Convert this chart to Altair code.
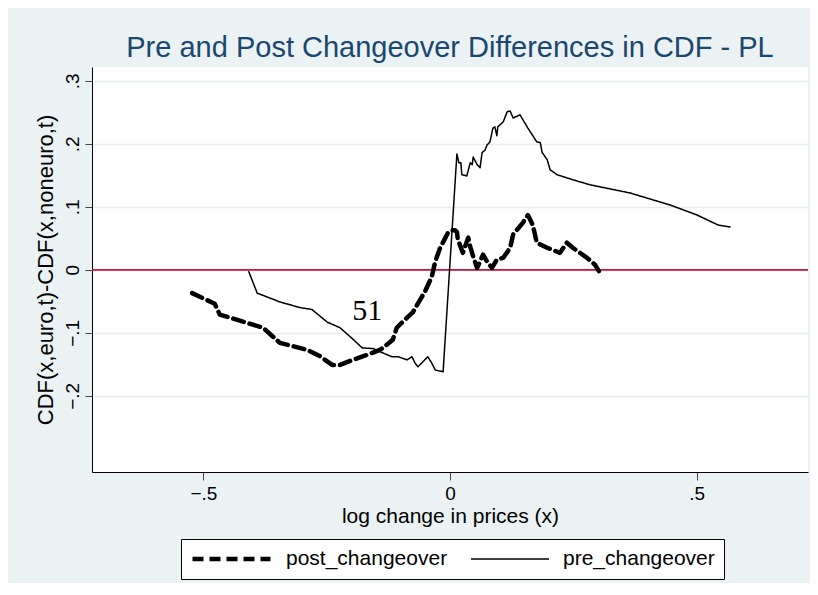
import altair as alt
import pandas as pd

# ---- data ----
series_names = ["post_changeover", "pre_changeover"]

post_x = [-0.523, -0.477, -0.467, -0.379, -0.345, -0.290, -0.264, -0.239, -0.223, -0.197,
          -0.168, -0.142, -0.136, -0.116, -0.108, -0.087, -0.075, -0.061, -0.051, -0.037,
          -0.030, -0.020, -0.014, -0.004, 0.004, 0.010, 0.014, 0.016, 0.026, 0.037,
          0.041, 0.047, 0.055, 0.067, 0.077, 0.085, 0.095, 0.108, 0.122, 0.128,
          0.148, 0.158, 0.168, 0.176, 0.197, 0.223, 0.237, 0.249, 0.278, 0.294, 0.302]
post_y = [-0.037, -0.054, -0.071, -0.092, -0.116, -0.127, -0.137, -0.151, -0.151, -0.143,
          -0.135, -0.127, -0.124, -0.111, -0.092, -0.076, -0.067, -0.048, -0.035, -0.011,
          0.013, 0.035, 0.044, 0.059, 0.063, 0.063, 0.060, 0.048, 0.027, 0.051,
          0.037, 0.021, 0.003, 0.024, 0.011, 0.003, 0.016, 0.019, 0.035, 0.056,
          0.075, 0.087, 0.071, 0.043, 0.035, 0.027, 0.043, 0.035, 0.019, 0.008, -0.002]

pre_x = [-0.408, -0.391, -0.345, -0.304, -0.280, -0.249, -0.223, -0.197, -0.178, -0.156,
         -0.136, -0.118, -0.105, -0.087, -0.077, -0.071, -0.065, -0.055, -0.045, -0.037,
         -0.030, -0.014, 0.014, 0.018, 0.022, 0.024, 0.034, 0.041, 0.045, 0.047,
         0.055, 0.061, 0.065, 0.071, 0.075, 0.081, 0.087, 0.091, 0.095, 0.097,
         0.108, 0.116, 0.122, 0.128, 0.142, 0.158, 0.176, 0.183, 0.187, 0.197,
         0.203, 0.217, 0.249, 0.284, 0.365, 0.446, 0.501, 0.544, 0.568]
pre_y = [-0.003, -0.037, -0.051, -0.060, -0.063, -0.083, -0.092, -0.110, -0.124, -0.125,
         -0.132, -0.138, -0.138, -0.143, -0.138, -0.148, -0.154, -0.146, -0.138, -0.148,
         -0.159, -0.162, 0.184, 0.170, 0.170, 0.151, 0.149, 0.170, 0.167, 0.179,
         0.167, 0.162, 0.186, 0.190, 0.198, 0.203, 0.225, 0.227, 0.213, 0.227,
         0.235, 0.251, 0.252, 0.241, 0.246, 0.225, 0.203, 0.202, 0.186, 0.175,
         0.159, 0.151, 0.143, 0.135, 0.122, 0.103, 0.087, 0.071, 0.068]

x_ticks = [-0.5, 0, 0.5]
y_ticks = [-0.2, -0.1, 0, 0.1, 0.2, 0.3]
zero_line = [0]
annot_x = [-0.168]
annot_y = [-0.065]
annot_text = ["51"]

# ---- tables ----
df = pd.concat([
    pd.DataFrame({"x": post_x, "y": post_y, "series": series_names[0],
                  "order": list(range(len(post_x)))}),
    pd.DataFrame({"x": pre_x, "y": pre_y, "series": series_names[1],
                  "order": list(range(len(pre_x)))}),
], ignore_index=True)
zero_df = pd.DataFrame({"zero": zero_line})
annot_df = pd.DataFrame({"x": annot_x, "y": annot_y, "t": annot_text})

FONT = "Liberation Sans"
label_expr = "datum.value == 0 ? '0' : replace(format(datum.value, '.1f'), '0.', '.')"

x_scale = alt.Scale(domain=[-0.726, 0.726], nice=False, zero=False)
y_scale = alt.Scale(domain=[-0.321, 0.322], nice=False, zero=False)

x_enc = alt.X("x:Q", scale=x_scale,
              axis=alt.Axis(values=x_ticks, labelExpr=label_expr, grid=False,
                            title="log change in prices (x)"))
y_enc = alt.Y("y:Q", scale=y_scale,
              axis=alt.Axis(values=y_ticks, labelExpr=label_expr, grid=True,
                            labelAngle=270, title="CDF(x,euro,t)-CDF(x,noneuro,t)"))

legend_common = dict(title=None, orient="none", legendX=89, legendY=472,
                     direction="horizontal", fillColor="white", strokeColor="black",
                     padding=9, clipHeight=22, symbolType="stroke", symbolSize=6084,
                     labelFontSize=21, labelFont=FONT, labelColor="black", labelLimit=400,
                     labelOffset=13, columnPadding=22, cornerRadius=0)

lines = alt.Chart(df).mark_line(color="black", strokeCap="round", strokeJoin="round").encode(
    x=x_enc,
    y=y_enc,
    strokeDash=alt.StrokeDash("series:N",
                              scale=alt.Scale(domain=series_names, range=[[11, 6], [1, 0]]),
                              legend=alt.Legend(**legend_common)),
    strokeWidth=alt.StrokeWidth("series:N",
                                scale=alt.Scale(domain=series_names, range=[4.5, 1.5]),
                                legend=alt.Legend(**legend_common)),
    order="order:Q",
)

zero = alt.Chart(zero_df).mark_rule(color="#C8143C", strokeWidth=1.8).encode(
    y=alt.Y("zero:Q", scale=y_scale)
)

annot = alt.Chart(annot_df).mark_text(font="Liberation Serif", fontSize=30, color="black").encode(
    x=alt.X("x:Q", scale=x_scale), y=alt.Y("y:Q", scale=y_scale), text="t:N"
)

chart = alt.layer(zero, lines, annot).properties(
    width=716, height=405,
    padding={"left": 84, "top": 59, "right": 2, "bottom": 111},
    autosize=alt.AutoSizeParams(type="none"),
    background="#EAF2F3",
    title=alt.TitleParams("Pre and Post Changeover Differences in CDF - PL",
                          fontSize=29, font=FONT, color="#1A476F", fontWeight="normal",
                          anchor="middle", baseline="alphabetic", offset=10, dy=29),
).configure_view(
    fill="white", strokeWidth=0
).configure_axis(
    domainColor="black", domainWidth=1, tickColor="#444444", tickWidth=1,
    labelFont=FONT, labelFontSize=19, labelColor="black",
    titleFont=FONT, titleFontWeight="normal", titleColor="black",
    gridColor="#E3ECEE", gridWidth=1.5,
).configure_axisX(
    tickSize=8, labelPadding=4, titleFontSize=21, titlePadding=2,
).configure_axisY(
    tickSize=7, labelPadding=3, titleFontSize=22, titlePadding=6,
).configure_legend(
    symbolStrokeColor="black"
)

chart.save("out.html", embed_options={"renderer": "svg", "actions": False})
